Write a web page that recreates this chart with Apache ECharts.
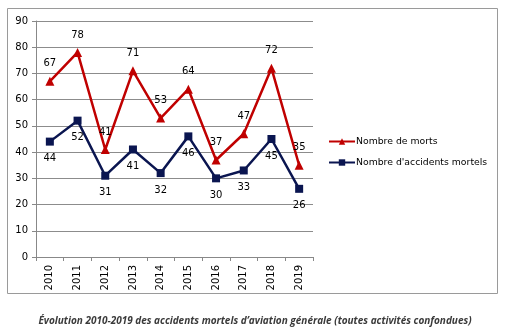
<!DOCTYPE html>
<html><head><meta charset="utf-8">
<script src="https://cdn.jsdelivr.net/npm/echarts@6/dist/echarts.min.js"></script>
<style>html,body{margin:0;padding:0;background:#fff}#c{width:510px;height:332px}</style>
</head><body><div id="c"></div>
<script>
const years = ['2010','2011','2012','2013','2014','2015','2016','2017','2018','2019'];
const morts = [67,78,41,71,53,64,37,47,72,35];
const accidents = [44,52,31,41,32,46,30,33,45,26];
const yTicks = [0,10,20,30,40,50,60,70,80,90];
const caption = 'Évolution 2010-2019 des accidents mortels d’aviation générale (toutes activités confondues)';

const chart = echarts.init(document.getElementById('c'), null, {renderer:'canvas'});
const font = 'DejaVu Sans';
chart.setOption({
  animation:false,
  backgroundColor:'#fff',
  title:{text:caption,left:'center',top:311,textStyle:{fontFamily:'Open Sans',fontStyle:'italic',fontWeight:'bold',fontSize:10,color:'#3a3a3a'}},
  graphic:[{type:'rect',shape:{x:7.5,y:8.5,width:490,height:285},style:{fill:'none',stroke:'#9a9a9a',lineWidth:1}}],
  legend:{
    orient:'vertical',left:323,top:132,itemGap:12,itemWidth:26,itemHeight:8,
    textStyle:{fontFamily:font,fontSize:9.3,color:'#000',padding:[0,0,0,-4]},
    data:['Nombre de morts',"Nombre d'accidents mortels"]
  },
  grid:{left:36,right:197,top:21,bottom:75,containLabel:false},
  xAxis:{type:'category',data:years,boundaryGap:true,
    axisLine:{lineStyle:{color:'#888'}},
    axisTick:{show:true,length:4,lineStyle:{color:'#888'}},
    axisLabel:{rotate:90,fontFamily:font,fontSize:10,color:'#000',margin:8}},
  yAxis:{type:'value',min:0,max:90,interval:10,
    axisLine:{show:true,lineStyle:{color:'#888'}},
    axisTick:{show:true,length:4,lineStyle:{color:'#888'}},
    splitLine:{lineStyle:{color:'#8c8c8c',width:1}},
    axisLabel:{fontFamily:font,fontSize:10,color:'#000',margin:8,formatter:v=>yTicks.includes(v)?String(v):''}},
  series:[
    {name:'Nombre de morts',type:'line',data:morts,symbol:'triangle',symbolSize:9,
     lineStyle:{color:'#C00000',width:2.5},itemStyle:{color:'#C00000'},
     label:{show:true,position:'top',distance:8,fontFamily:font,fontSize:10,color:'#000'}},
    {name:"Nombre d'accidents mortels",type:'line',data:accidents,symbol:'rect',symbolSize:8,
     lineStyle:{color:'#0A1550',width:2.5},itemStyle:{color:'#0A1550'},
     label:{show:true,position:'bottom',distance:8,fontFamily:font,fontSize:10,color:'#000'}}
  ]
});
</script></body></html>
